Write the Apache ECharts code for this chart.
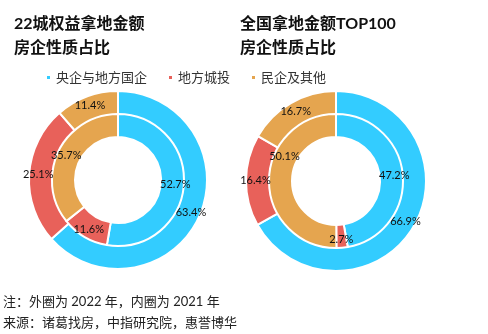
<!DOCTYPE html>
<html>
<head>
<meta charset="utf-8">
<script src="https://cdn.jsdelivr.net/npm/echarts@6/dist/echarts.min.js"></script>
<style>
html,body{margin:0;padding:0;background:#fff;}
#main{width:488px;height:334px;}
</style>
</head>
<body>
<div id="main"></div>
<script>
var categories = ['央企与地方国企', '地方城投', '民企及其他'];
var left2022 = [63.4, 25.1, 11.4];
var left2021 = [52.7, 11.6, 35.7];
var right2022 = [66.9, 16.4, 16.7];
var right2021 = [47.2, 2.7, 50.1];
var titles = ['22城权益拿地金额\n房企性质占比', '全国拿地金额TOP100\n房企性质占比'];
var notes = ['注：外圈为 2022 年，内圈为 2021 年', '来源：诸葛找房，中指研究院，惠誉博华'];
var colors = ['#33CCFF', '#E8615A', '#E5A54F'];

var FONT = 'Lato, "Noto Sans CJK SC", sans-serif';

function toData(vals, offsets) {
  return vals.map(function (v, i) {
    var d = { name: categories[i], value: v };
    if (offsets && offsets[i]) d.label = { offset: offsets[i] };
    return d;
  });
}

function ring(vals, center, radius, offsets) {
  return {
    type: 'pie',
    center: center,
    radius: radius,
    startAngle: 90,
    clockwise: true,
    avoidLabelOverlap: false,
    silent: true,
    itemStyle: { borderColor: '#fff', borderWidth: 2 },
    label: {
      show: true,
      position: 'inside',
      color: '#111',
      fontFamily: FONT,
      fontSize: 11,
      formatter: function (p) { return p.value.toFixed(1) + '%'; }
    },
    labelLine: { show: false },
    emphasis: { disabled: true },
    data: toData(vals, offsets)
  };
}

var chart = echarts.init(document.getElementById('main'), null, { renderer: 'canvas' });
chart.setOption({
  animation: false,
  color: colors,
  title: [
    { text: titles[0], left: 9, top: 7, textStyle: { fontFamily: FONT, fontSize: 16, fontWeight: 'bold', color: '#111', lineHeight: 24 } },
    { text: titles[1], left: 235, top: 7, textStyle: { fontFamily: FONT, fontSize: 16, fontWeight: 'bold', color: '#111', lineHeight: 24 } }
  ],
  legend: {
    data: categories,
    left: 40,
    top: 66,
    icon: 'rect',
    itemWidth: 5,
    itemHeight: 5,
    itemGap: 20,
    textStyle: { fontFamily: FONT, fontSize: 13, color: '#333' }
  },
  graphic: [
    { type: 'text', left: 3, top: 295, style: { text: notes[0], font: '13px ' + FONT, fill: '#222' } },
    { type: 'text', left: 3, top: 316, style: { text: notes[1], font: '13px ' + FONT, fill: '#222' } }
  ],
  series: [
    ring(left2022, [118, 180], [65, 89]),
    ring(left2021, [118, 180], [43, 66]),
    ring(right2022, [336, 181], [65, 90]),
    ring(right2021, [336, 181], [44, 67], [null, null, [7, -25]])
  ]
});
</script>
</body>
</html>
